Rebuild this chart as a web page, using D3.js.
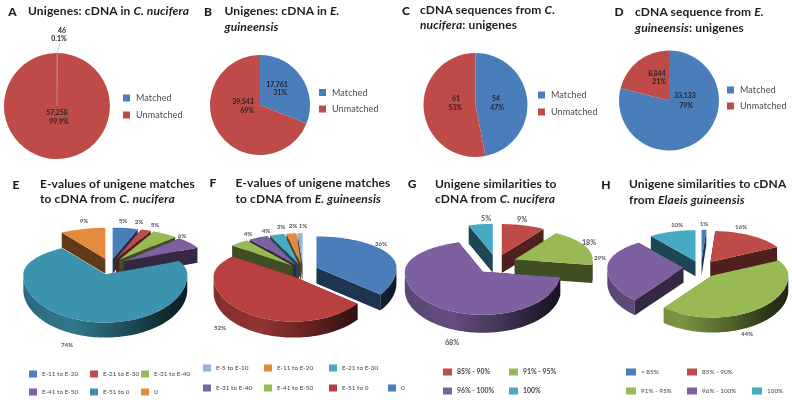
<!DOCTYPE html>
<html><head><meta charset="utf-8">
<script src="https://cdn.jsdelivr.net/npm/d3@7/dist/d3.min.js"></script>
<style>html,body{margin:0;background:#fff}svg{display:block;filter:blur(0.35px)}text{font-family:Lato,"Open Sans",sans-serif}</style>
</head><body><svg id="c" width="792" height="400"></svg>
<script>
// ---------- data ----------
const flatCategories = ["Matched", "Unmatched"];
const valuesA = [46, 57258];      const pctA = ["0.1%", "99.9%"];
const valuesB = [17761, 39543];   const pctB = ["31%", "69%"];
const valuesC = [54, 61];         const pctC = ["47%", "53%"];
const valuesD = [33133, 8844];    const pctD = ["79%", "21%"];

const categoriesE = ["E-11 to E-20", "E-21 to E-30", "E-31 to E-40", "E-41 to E-50", "E-51 to 0", "0"];
const valuesE = [5, 2, 5, 6, 74, 9];
const categoriesF = ["0", "E-51 to 0", "E-41 to E-50", "E-31 to E-40", "E-21 to E-30", "E-11 to E-20", "E-5 to E-10"];
const valuesF = [36, 52, 4, 4, 3, 2, 1];
const categoriesG = ["85% - 90%", "91% - 95%", "96% - 100%", "100%"];
const valuesG = [9, 18, 68, 5];
const categoriesH = ["< 85%", "85% - 90%", "91% - 95%", "96% - 100%", "100%"];
const valuesH = [1, 16, 44, 29, 10];

const titlesTop = [
  ["A", ["Unigenes: cDNA in *C. nucifera*"]],
  ["B", ["Unigenes: cDNA in *E.*", "*guineensis*"]],
  ["C", ["cDNA sequences from *C.*", "*nucifera*: unigenes"]],
  ["D", ["cDNA sequence from *E.*", "*guineensis*:  unigenes"]]
];
const titlesBottom = [
  ["E", ["E-values of unigene matches", "to cDNA from *C. nucifera*"]],
  ["F", ["E-values of unigene matches", "to cDNA from *E. guineensis*"]],
  ["G", ["Unigene similarities to", "cDNA from *C. nucifera*"]],
  ["H", ["Unigene similarities to cDNA", "from *Elaeis guineensis*"]]
];

// ---------- colours ----------
const BLUE="#4a7ebb", RED="#be4b48", GREEN="#98b954", PURPLE="#7d60a0", TEAL="#46aac4", ORANGE="#e48a3c", LIGHT="#94b3d9";
const TEAL3="#3c93ad";
const colorsE=[BLUE,RED,GREEN,PURPLE,TEAL3,ORANGE];
const colorsF=[BLUE,"#b8403e",GREEN,PURPLE,TEAL,ORANGE,LIGHT];
const colorsG=[RED,GREEN,PURPLE,TEAL];
const colorsH=[BLUE,RED,GREEN,PURPLE,TEAL];

// ---------- layout ----------
const svg=d3.select("#c");
const defs=svg.append("defs");
const pieGen=d3.pie().sort(null).startAngle(0).endAngle(2*Math.PI);

function rich(sel,str){
  str.split("*").forEach((s,i)=>{ if(s) sel.append("tspan").attr("font-style",i%2?"italic":"normal").text(s); });
}
function heading(item,lx,tx,ys,ly){
  svg.append("text").attr("x",lx).attr("y",ly).attr("font-size",12).attr("font-weight",900).attr("fill","#1c1c1c").attr("text-anchor","middle").text(item[0]);
  item[1].forEach((l,i)=>{
    const t=svg.append("text").attr("x",tx).attr("y",ys[i]).attr("font-size",12).attr("font-weight",700).attr("fill","#1d1d1d").attr("letter-spacing",0.12);
    rich(t,l);
  });
}
heading(titlesTop[0],12.5,28,[15],16);
heading(titlesTop[1],208,224.5,[15,31],16);
heading(titlesTop[2],406,420,[14,29],15);
heading(titlesTop[3],619,635,[16,32],16);
heading(titlesBottom[0],16,40,[188,203],189);
heading(titlesBottom[1],213,235.5,[187,203],187);
heading(titlesBottom[2],412,435,[188,203],188);
heading(titlesBottom[3],606,629,[188,204],189);

function flatPie(o){
  const arc=d3.arc().innerRadius(0).outerRadius(o.r);
  const g=svg.append("g").attr("transform",`translate(${o.cx},${o.cy})`);
  g.selectAll("path").data(pieGen(o.values)).join("path").attr("d",arc).attr("fill",(d,i)=>[BLUE,RED][i]);
  const fmt=d3.format(",");
  o.labelPos.forEach((p,i)=>{
    [fmt(o.values[i]),o.pct[i]].forEach((s,j)=>{
      svg.append("text").attr("x",p[j][0]).attr("y",p[j][1]).attr("font-size",6.9).attr("font-weight",700)
        .attr("text-anchor","middle").attr("fill","#2a2224").text(s);
    });
  });
  flatCategories.forEach((c,i)=>{
    svg.append("rect").attr("x",o.lx).attr("y",o.ly[i]-3.5).attr("width",7).attr("height",7).attr("fill",[BLUE,RED][i]);
    svg.append("text").attr("x",o.lx+13).attr("y",o.ly[i]+3).attr("font-size",9).attr("fill","#4a4a4a").attr("letter-spacing",0.1).text(c);
  });
}
flatPie({values:valuesA,pct:pctA,cx:57,cy:106,r:53,lx:123,ly:[98,115],labelPos:[[[62,33],[59,41]],[[57,115],[59,124]]]});
svg.append("line").attr("x1",57).attr("y1",106).attr("x2",57).attr("y2",53).attr("stroke","#c98f8d").attr("stroke-width",0.8);
svg.append("line").attr("x1",57).attr("y1",53).attr("x2",60).attr("y2",43).attr("stroke","#a9c0dc").attr("stroke-width",0.8);
flatPie({values:valuesB,pct:pctB,cx:260,cy:105,r:50,lx:319,ly:[92.5,109],labelPos:[[[277,87],[280,95]],[[243,104],[247,113]]]});
flatPie({values:valuesC,pct:pctC,cx:475.5,cy:105,r:52,lx:538,ly:[95,112],labelPos:[[[496,101],[497,110]],[[456,101],[455,110]]]});
flatPie({values:valuesD,pct:pctD,cx:669,cy:100.5,r:50,lx:727,ly:[90,106],labelPos:[[[685,98],[686,108]],[[657,76],[659,84]]]});

let gid=0;
function scaleCol(c,f){const r=d3.rgb(c);return d3.rgb(r.r*f,r.g*f,r.b*f).formatHex();}
function pie3d(o){
  const arcs=pieGen(o.values);
  const line=d3.line();
  const items=arcs.map((d,i)=>{
    const m=(d.startAngle+d.endAngle)/2;
    const ky=Math.cos(m)>0?o.ryB/o.rx:o.ryF/o.rx;
    const ax=o.cx+o.e*Math.sin(m), ay=o.cy-o.e*ky*Math.cos(m);
    const P=a=>[ax+o.rx*Math.sin(a), ay-(Math.cos(a)>0?o.ryB:o.ryF)*Math.cos(a)];
    return {d,i,m,ax,ay,P,color:o.colors[i]};
  }).sort((a,b)=>Math.cos(b.m)-Math.cos(a.m));
  const g=svg.append("g");
  items.forEach(s=>{
    const n=Math.max(4,Math.ceil((s.d.endAngle-s.d.startAngle)/0.03));
    const angles=d3.range(n+1).map(k=>s.d.startAngle+(s.d.endAngle-s.d.startAngle)*k/n);
    const rim=angles.map(s.P);
    const D=o.depth;
    const dark=scaleCol(s.color,0.42);
    const id="w"+(gid++);
    const lg=defs.append("linearGradient").attr("id",id).attr("gradientUnits","userSpaceOnUse")
      .attr("x1",s.ax-o.rx).attr("x2",s.ax+o.rx).attr("y1",0).attr("y2",0);
    [[0,.72],[.3,.8],[.6,.55],[.85,.3],[1,.2]].forEach(t=>lg.append("stop").attr("offset",t[0]).attr("stop-color",scaleCol(s.color,t[1])));
    [s.d.startAngle,s.d.endAngle].forEach(a=>{
      const p=s.P(a);
      g.append("path").attr("d",line([[s.ax,s.ay],p,[p[0],p[1]+D],[s.ax,s.ay+D]])+"Z").attr("fill",dark);
    });
    const front=angles.filter(a=>Math.cos(a)<0).map(s.P);
    if(front.length>1){
      const low=front.map(p=>[p[0],p[1]+D]).reverse();
      g.append("path").attr("d",line(front.concat(low))+"Z").attr("fill",`url(#${id})`);
    }
    g.append("path").attr("d",line([[s.ax,s.ay]].concat(rim))+"Z").attr("fill",s.color);
  });
  o.values.forEach((v,i)=>{
    svg.append("text").attr("x",o.labelPos[i][0]).attr("y",o.labelPos[i][1]).attr("font-size",o.labelSize||6.2).attr("font-weight",700)
      .attr("text-anchor","middle").attr("fill","#555").text(v+"%");
  });
  o.legend.forEach(l=>{
    const i=l[0];
    svg.append("rect").attr("x",l[1]).attr("y",l[2]-3.5).attr("width",o.sw).attr("height",7).attr("fill",o.colors[i]);
    svg.append("text").attr("x",l[1]+o.sw+o.gap).attr("y",l[2]+2.3).attr("font-size",o.legSize||6.4).attr("fill","#444").attr("font-weight",o.legWeight||400).text(o.categories[i]);
  });
}
pie3d({values:valuesE,categories:categoriesE,colors:colorsE,cx:110,cy:265,rx:82,ryB:31,ryF:48,e:17,depth:15,sw:8,gap:5,
  labelPos:[[123,223],[139,224],[155,227],[182,238],[67,347],[84,223]],
  legend:[[0,29,374],[1,90,374],[2,141,374],[3,29,392],[4,90,392],[5,141,392]]});
pie3d({values:valuesF,categories:categoriesF,colors:colorsF,cx:303,cy:270,rx:80,ryB:31,ryF:45,e:15,depth:16,sw:8,gap:5,
  labelPos:[[381,246],[220,330],[248,236],[266,233],[281,229],[293,228],[303,228]],
  legend:[[6,203,368],[5,264,368],[4,329,368],[3,203,388],[2,264,388],[1,329,388],[0,388,388]]});
pie3d({values:valuesG,categories:categoriesG,colors:colorsG,cx:496,cy:263,rx:78,ryB:31,ryF:43,e:20.7,depth:18,sw:9,gap:5,labelSize:7.2,legSize:6.9,legWeight:700,
  labelPos:[[522,222],[589,245],[452,345],[486,221]],
  legend:[[0,443,372],[1,509,372],[2,443,391],[3,509,391]]});
pie3d({values:valuesH,categories:categoriesH,colors:colorsH,cx:701,cy:268,rx:76,ryB:31,ryF:42,e:17.7,depth:15,sw:10,gap:5,
  labelPos:[[704,226],[741,229],[747,336],[600,260],[677,227]],
  legend:[[0,626,372],[1,687,372],[2,626,391],[3,687,391],[4,752,391]]});
</script></body></html>
